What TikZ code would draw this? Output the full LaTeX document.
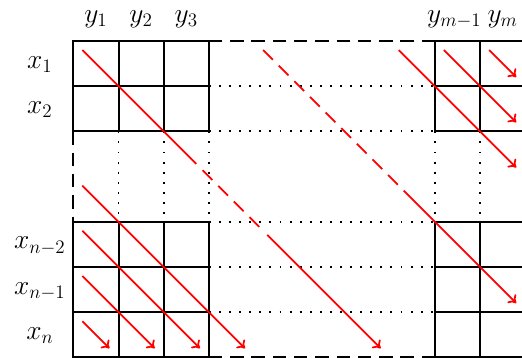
\documentclass[tikz,border=0pt]{standalone}
\usetikzlibrary{arrows.meta}
\tikzset{
  gridline/.style={line width=1.25pt, line cap=rect},
  griddash/.style={line width=1.25pt, dash pattern=on 8.4pt off 5pt},
  griddot/.style={line width=1.2pt, dash pattern=on 1.2pt off 5.15pt},
  redline/.style={red, line width=1.1pt},
  reddash/.style={red, line width=1.1pt, dash pattern=on 8.7pt off 5.2pt},
  redarrow/.style={red, line width=1.1pt, -{To[length=4.5pt,width=7.5pt]}},
  lab/.style={font=\fontsize{17.5}{21}\selectfont, anchor=base, inner sep=0pt}
}
\begin{document}
\begin{tikzpicture}[x=1cm,y=-1cm]
\useasboundingbox (-1.622,-0.907) rectangle (9.927,7.013);
% solid horizontal lines of the four blocks
\foreach \r in {0,1,2,4,5,6,7} {
  \draw[gridline] (0,\r) -- (3,\r);
  \draw[gridline] (8,\r) -- (10,\r);
}
% between the blocks
\draw[griddash] (3,0) -- (8,0);
\draw[griddash] (3,7) -- (8,7);
\foreach \r in {1,2,4,5,6} \draw[griddot] (3,\r) -- (8,\r);
% vertical lines
\foreach \c in {0,1,2,3,8,9,10} {
  \draw[gridline] (\c,0) -- (\c,2);
  \draw[gridline] (\c,4) -- (\c,7);
}
\draw[griddash] (0,2) -- (0,4);
\draw[griddash] (10,2) -- (10,4);
\foreach \c in {1,2,3,8,9} \draw[griddot] (\c,2) -- (\c,4);
% red diagonals
\draw[redline] (0.2,0.2) -- (2.72,2.72);
\draw[reddash] (2.86,2.86) -- (4.15,4.15);
\draw[redarrow] (4.29,4.29) -- (6.8,6.8);
\draw[reddash] (4.2,0.2) -- (7.19,3.19);
\draw[redarrow] (7.31,3.31) -- (9.8,5.8);
\draw[redarrow] (7.2,0.2) -- (9.8,2.8);
\draw[redarrow] (8.2,0.2) -- (9.8,1.8);
\draw[redarrow] (9.2,0.2) -- (9.8,0.8);
\draw[redarrow] (0.2,3.2) -- (3.8,6.8);
\draw[redarrow] (0.2,4.2) -- (2.8,6.8);
\draw[redarrow] (0.2,5.2) -- (1.8,6.8);
\draw[redarrow] (0.2,6.2) -- (0.8,6.8);
% labels
\node[lab] (y1) at (0.5,-0.42) {$y_1$};
\node[lab] (y2) at (1.5,-0.42) {$y_2$};
\node[lab] (y3) at (2.5,-0.42) {$y_3$};
\node[lab] (ym1) at (8.43,-0.42) {$y_{m-1}$};
\node[lab] (ym) at (9.5,-0.42) {$y_m$};
\node[lab] (x1) at (-0.74,0.6) {$x_1$};
\node[lab] (x2) at (-0.74,1.6) {$x_2$};
\node[lab] (xn2) at (-0.74,4.6) {$x_{n-2}$};
\node[lab] (xn1) at (-0.74,5.6) {$x_{n-1}$};
\node[lab] (xn) at (-0.74,6.6) {$x_n$};
\end{tikzpicture}
\end{document}
